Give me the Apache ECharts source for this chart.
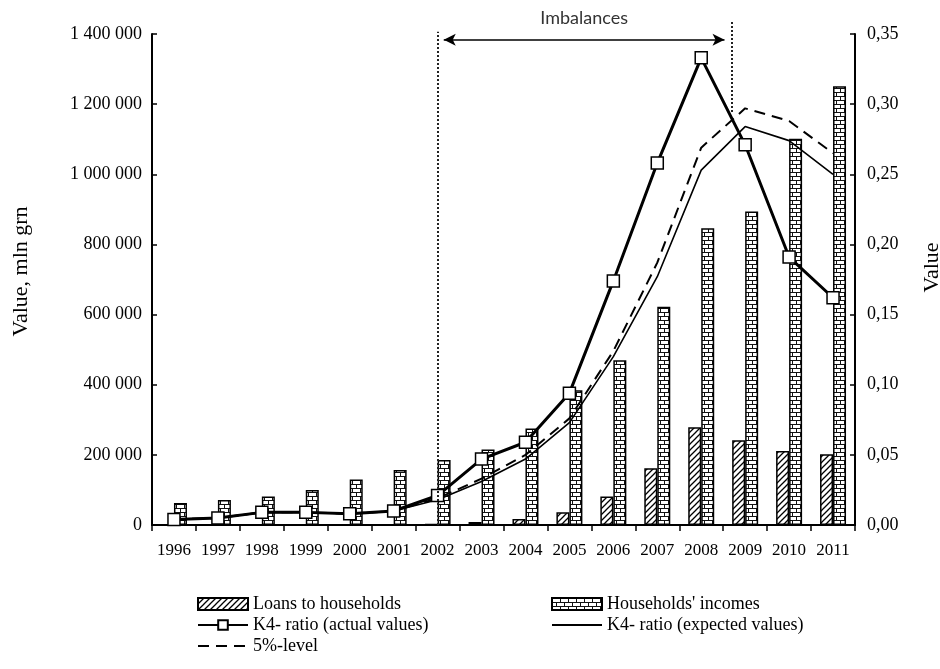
<!DOCTYPE html>
<html>
<head>
<meta charset="utf-8">
<script src="https://cdn.jsdelivr.net/npm/echarts@6/dist/echarts.min.js"></script>
<style>
html,body{margin:0;padding:0;background:#fff;}
#c{width:940px;height:669px;}
</style>
</head>
<body>
<div id="c"></div>
<script>
// ---- data ----
const years = ['1996','1997','1998','1999','2000','2001','2002','2003','2004','2005','2006','2007','2008','2009','2010','2011'];
const loansToHouseholds = [400, 600, 900, 1200, 1500, 2000, 2500, 8500, 17000, 36000, 81000, 162000, 279000, 242000, 211000, 202000];
const householdsIncomes = [63000, 71000, 81000, 100000, 130000, 157000, 185000, 215000, 275000, 384000, 470000, 622000, 846000, 894000, 1101000, 1251000];
const k4Actual = [0.004, 0.005, 0.009, 0.009, 0.008, 0.010, 0.021, 0.047, 0.059, 0.094, 0.174, 0.258, 0.333, 0.271, 0.191, 0.162];
const k4Expected = [0.004, 0.005, 0.009, 0.009, 0.008, 0.010, 0.018, 0.031, 0.047, 0.073, 0.120, 0.177, 0.253, 0.284, 0.274, 0.250];
const level5 = [0.004, 0.005, 0.009, 0.009, 0.008, 0.010, 0.019, 0.033, 0.050, 0.076, 0.124, 0.187, 0.269, 0.297, 0.288, 0.265];
const leftTicks = {min: 0, max: 1400000, interval: 200000};
const rightTicks = {min: 0, max: 0.35, interval: 0.05};
// annotation positions (category-index units / right-axis value units)
const imbalanceStart = 6.5, imbalanceEnd = 13.19;

// ---- patterns ----
function hatchPattern() {
  const c = document.createElement('canvas');
  c.width = 6; c.height = 6;
  const g = c.getContext('2d');
  g.fillStyle = '#fff'; g.fillRect(0, 0, 6, 6);
  g.strokeStyle = '#000'; g.lineWidth = 1.3;
  g.beginPath();
  g.moveTo(-1, 7); g.lineTo(7, -1);
  g.moveTo(-4, 4); g.lineTo(4, -4);
  g.moveTo(2, 10); g.lineTo(10, 2);
  g.stroke();
  return {image: c, repeat: 'repeat'};
}
function brickPattern() {
  const c = document.createElement('canvas');
  c.width = 8; c.height = 8;
  const g = c.getContext('2d');
  g.fillStyle = '#fff'; g.fillRect(0, 0, 8, 8);
  g.fillStyle = '#111';
  g.fillRect(0, 0, 8, 1);
  g.fillRect(0, 4, 8, 1);
  g.fillRect(0, 0, 1, 4);
  g.fillRect(4, 4, 1, 4);
  return {image: c, repeat: 'repeat'};
}

const serif = '"Liberation Serif", "Times New Roman", serif';
const chart = echarts.init(document.getElementById('c'), null, {renderer: 'canvas'});
const hideSymbol = {opacity: 0};

const option = {
  animation: false,
  backgroundColor: '#fff',
  grid: [
    {left: 152, right: 85, top: 34, bottom: 144, containLabel: false, outerBoundsMode: 'none'},
    {left: 152, right: 85, top: -1, bottom: 144, containLabel: false, outerBoundsMode: 'none'}
  ],
  legend: [
    {
      orient: 'vertical', left: 197, top: 595, padding: 0, itemGap: 3, itemWidth: 50, itemHeight: 12,
      textStyle: {fontFamily: serif, fontSize: 18, color: '#000'},
      data: [
        {name: 'Loans to households', icon: 'rect'},
        {name: 'K4- ratio (actual values)'},
        {name: '5%-level', itemStyle: hideSymbol}
      ],
      selectedMode: false
    },
    {
      orient: 'vertical', left: 551, top: 595, padding: 0, itemGap: 3, itemWidth: 50, itemHeight: 12,
      textStyle: {fontFamily: serif, fontSize: 18, color: '#000'},
      data: [
        {name: "Households' incomes", icon: 'rect'},
        {name: 'K4- ratio (expected values)', itemStyle: hideSymbol}
      ],
      selectedMode: false
    }
  ],
  xAxis: [
    {
      type: 'category', data: years, gridIndex: 0,
      axisLine: {lineStyle: {color: '#000', width: 2}},
      axisTick: {show: true, length: 6, lineStyle: {color: '#000', width: 1.5}},
      axisLabel: {fontFamily: serif, fontSize: 17, color: '#000', margin: 17, interval: 0, hideOverlap: false}
    },
    {type: 'value', gridIndex: 1, min: 0, max: years.length, show: false}
  ],
  yAxis: [
    {
      type: 'value', gridIndex: 0, position: 'left',
      min: leftTicks.min, max: leftTicks.max, interval: leftTicks.interval,
      name: 'Value, mln grn', nameLocation: 'middle', nameGap: 120, nameRotate: 90,
      nameTextStyle: {fontFamily: serif, fontSize: 22, color: '#000', padding: [0, 0, 0, 16]},
      axisLine: {show: true, lineStyle: {color: '#000', width: 2}},
      axisTick: {show: true, inside: true, length: 5, lineStyle: {color: '#000', width: 1.5}},
      splitLine: {show: false},
      axisLabel: {fontFamily: serif, fontSize: 18, color: '#000', margin: 10,
        formatter: v => String(v).replace(/\B(?=(\d{3})+(?!\d))/g, ' ')}
    },
    {
      type: 'value', gridIndex: 0, position: 'right',
      min: rightTicks.min, max: rightTicks.max, interval: rightTicks.interval,
      name: 'Value', nameLocation: 'middle', nameGap: 66, nameRotate: 90,
      nameTextStyle: {fontFamily: serif, fontSize: 22, color: '#000', padding: [0, 0, 0, 24]},
      axisLine: {show: true, lineStyle: {color: '#000', width: 2}},
      axisTick: {show: true, inside: true, length: 5, lineStyle: {color: '#000', width: 1.5}},
      splitLine: {show: false},
      axisLabel: {fontFamily: serif, fontSize: 18, color: '#000', margin: 12,
        formatter: v => v.toFixed(2).replace('.', ',')}
    },
    {type: 'value', gridIndex: 1, min: 0, max: 0.375, show: false}
  ],
  series: [
    {
      name: 'dotted', type: 'line', xAxisIndex: 1, yAxisIndex: 2, data: [], silent: true, z: 1,
      markLine: {
        silent: true, symbol: ['none', 'none'], animation: false,
        label: {show: false},
        lineStyle: {color: '#222', width: 2, type: [2, 2]},
        emphasis: {disabled: true},
        data: [
          [{coord: [imbalanceStart, 0]}, {coord: [imbalanceStart, 0.3516]}],
          [{coord: [imbalanceEnd, 0.2945]}, {coord: [imbalanceEnd, 0.3587]}]
        ]
      }
    },
    {
      name: 'arrow', type: 'line', xAxisIndex: 1, yAxisIndex: 2, data: [], silent: true, z: 1,
      markLine: {
        silent: true, symbol: ['arrow', 'arrow'], symbolSize: [9, 12], animation: false,
        lineStyle: {color: '#000', width: 1.5, type: 'solid'},
        emphasis: {disabled: true},
        label: {show: true, position: 'middle', distance: 12, formatter: 'Imbalances',
          fontFamily: 'Lato, "Open Sans", sans-serif', fontSize: 18, color: '#333'},
        data: [
          [{coord: [6.64, 0.346]}, {coord: [13.03, 0.346]}]
        ]
      }
    },
    {
      name: 'Loans to households', type: 'bar', xAxisIndex: 0, yAxisIndex: 0,
      data: loansToHouseholds, barWidth: 13, barGap: '0%', z: 2,
      itemStyle: {color: hatchPattern(), borderColor: '#000', borderWidth: 1.5}
    },
    {
      name: "Households' incomes", type: 'bar', xAxisIndex: 0, yAxisIndex: 0,
      data: householdsIncomes, barWidth: 13, barGap: '0%', z: 2,
      itemStyle: {color: brickPattern(), borderColor: '#000', borderWidth: 1.5}
    },
    {
      name: '5%-level', type: 'line', xAxisIndex: 0, yAxisIndex: 1, data: level5,
      symbol: 'none', z: 3,
      lineStyle: {color: '#000', width: 2, type: [11, 7]},
      itemStyle: {color: '#000'}
    },
    {
      name: 'K4- ratio (expected values)', type: 'line', xAxisIndex: 0, yAxisIndex: 1, data: k4Expected,
      symbol: 'none', z: 3,
      lineStyle: {color: '#000', width: 1.6},
      itemStyle: {color: '#000'}
    },
    {
      name: 'K4- ratio (actual values)', type: 'line', xAxisIndex: 0, yAxisIndex: 1, data: k4Actual,
      symbol: 'rect', symbolSize: 12, z: 4,
      lineStyle: {color: '#000', width: 3},
      itemStyle: {color: '#fff', borderColor: '#000', borderWidth: 1.5}
    }
  ]
};
chart.setOption(option);
</script>
</body>
</html>
